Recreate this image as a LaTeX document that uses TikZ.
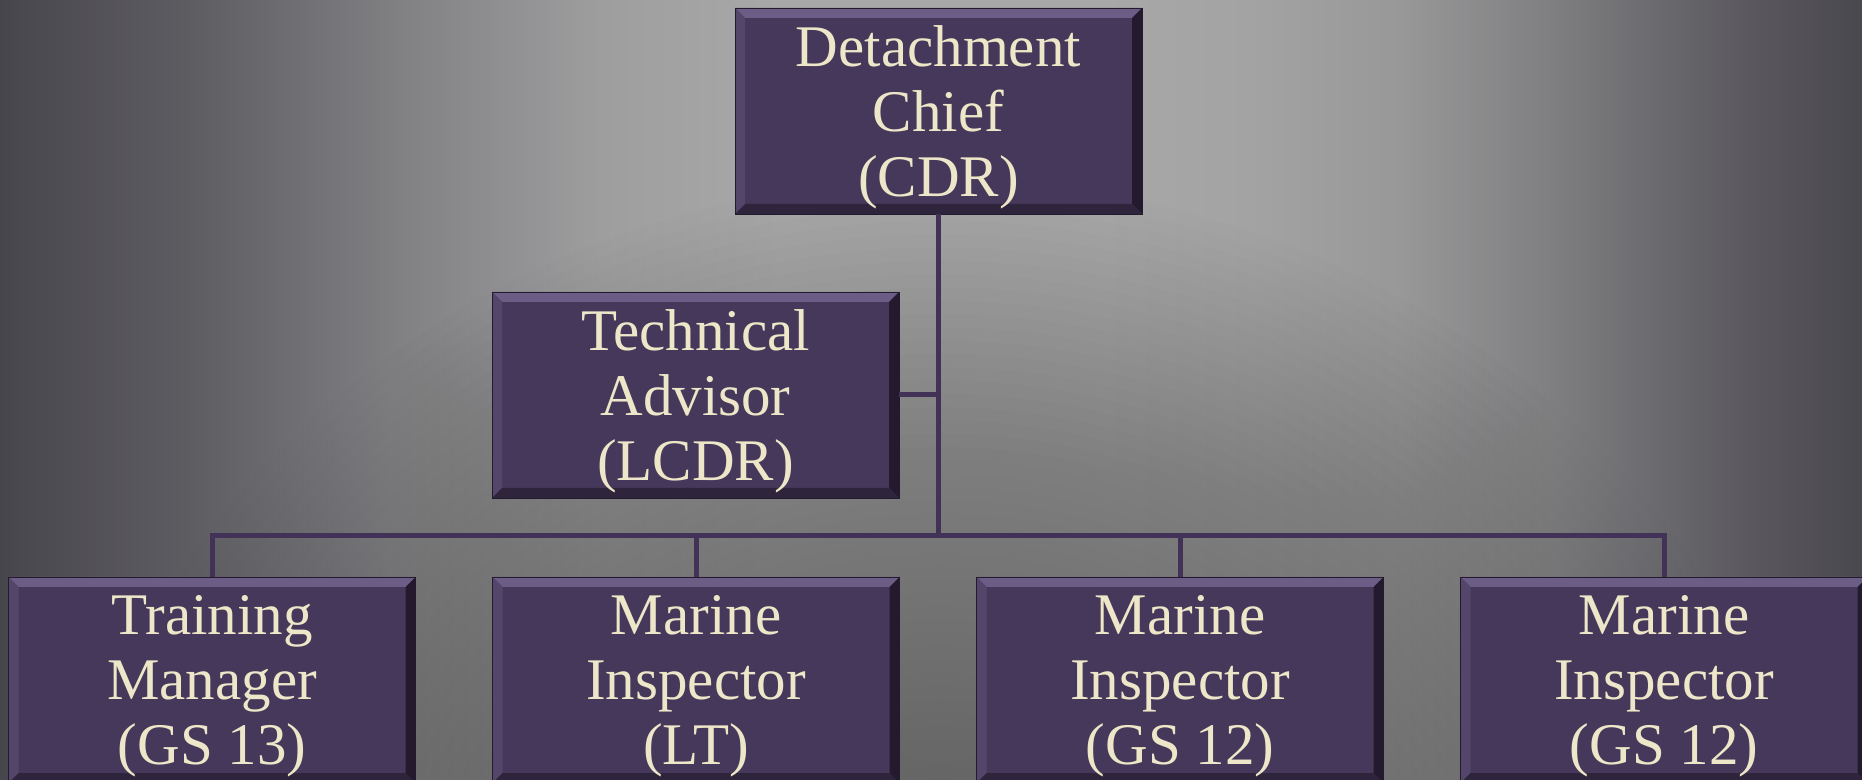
\documentclass[tikz,border=0pt]{standalone}
\usepackage{fontspec}
\setmainfont{Liberation Serif}
\usepackage{xcolor}
\usepackage{tikz}

% backdrop stops, left to right
\definecolor{bgA}{RGB}{72,70,77}
\definecolor{bgB}{RGB}{95,94,99}
\definecolor{bgC}{RGB}{129,128,131}
\definecolor{bgD}{RGB}{158,158,159}
\definecolor{bgE}{RGB}{168,168,168}
\definecolor{bgF}{RGB}{163,163,163}
\definecolor{bgG}{RGB}{152,152,153}
\definecolor{bgH}{RGB}{127,127,129}
\definecolor{bgI}{RGB}{108,107,111}
\definecolor{bgJ}{RGB}{90,88,94}
\definecolor{bgK}{RGB}{74,72,79}

\definecolor{boxfill}{RGB}{70,56,90}
\definecolor{bevtop}{RGB}{108,93,134}
\definecolor{bevleft}{RGB}{84,69,106}
\definecolor{bevright}{RGB}{35,27,45}
\definecolor{bevbottom}{RGB}{46,37,60}
\definecolor{linkcol}{RGB}{66,50,88}
\definecolor{boxtext}{RGB}{238,230,200}

\begin{document}
\begin{tikzpicture}[
  x=1pt, y=1pt,
  post/.style={rectangle, fill=boxfill, draw=bevright, line width=0.8pt,
    minimum width=407pt, minimum height=206pt, inner sep=0pt,
    text=boxtext, align=center, font=\fontsize{59}{65}\selectfont, text depth=0pt,
    path picture={
      % bevel: top, left, right, bottom
      \fill[bevtop] (path picture bounding box.north west) -- (path picture bounding box.north east)
        -- ([shift={(-10pt,-10pt)}]path picture bounding box.north east)
        -- ([shift={(10pt,-10pt)}]path picture bounding box.north west) -- cycle;
      \fill[bevleft] (path picture bounding box.north west) -- ([shift={(10pt,-10pt)}]path picture bounding box.north west)
        -- ([shift={(10pt,10pt)}]path picture bounding box.south west) -- (path picture bounding box.south west) -- cycle;
      \fill[bevright] (path picture bounding box.north east) -- ([shift={(-10pt,-10pt)}]path picture bounding box.north east)
        -- ([shift={(-10pt,10pt)}]path picture bounding box.south east) -- (path picture bounding box.south east) -- cycle;
      \fill[bevbottom] (path picture bounding box.south west) -- ([shift={(10pt,10pt)}]path picture bounding box.south west)
        -- ([shift={(-10pt,10pt)}]path picture bounding box.south east) -- (path picture bounding box.south east) -- cycle;
    }},
  link/.style={draw=linkcol, line width=5pt}
]
  \path[use as bounding box, clip] (0,0) rectangle (1862,779);

  % Background: dark at the sides, light at the top middle
  \foreach \xa/\xb/\ca/\cb in {0/200/bgA/bgB, 200/400/bgB/bgC, 400/600/bgC/bgD, 600/780/bgD/bgE,
      780/1100/bgE/bgE, 1100/1250/bgE/bgF, 1250/1400/bgF/bgG, 1400/1550/bgG/bgH,
      1550/1650/bgH/bgI, 1650/1750/bgI/bgJ, 1750/1862/bgJ/bgK}
    \shade[left color=\ca, right color=\cb] (\xa,0) rectangle (\xb+1,779);
  % darker towards the bottom middle
  \foreach \i in {60,59,...,1}
    \fill[black, fill opacity=0.009] (940,-200) ellipse [x radius=\i*14.7, y radius=\i*13.3];

  % Boxes
  \node[post] (chief)   at (938.5, 668) {Detachment\\Chief\\(CDR)};
  \node[post] (advisor) at (695.5, 384) {Technical\\Advisor\\(LCDR)};
  \node[post] (trainer) at (212, 99)    {Training\\Manager\\(GS 13)};
  \node[post] (insp1)   at (696, 99)    {Marine\\Inspector\\(LT)};
  \node[post] (insp2)   at (1180, 99)   {Marine\\Inspector\\(GS 12)};
  \node[post] (insp3)   at (1664, 99)   {Marine\\Inspector\\(GS 12)};

  \coordinate (bus) at (0, 243);

  % Connectors
  \draw[link] (chief.south) -- (chief.south |- bus);
  \draw[link] (advisor.east) -- (advisor.east -| chief.south);
  \draw[link] (trainer.north) -- (trainer.north |- bus) -- (insp3.north |- bus) -- (insp3.north);
  \draw[link] (insp1.north) -- (insp1.north |- bus);
  \draw[link] (insp2.north) -- (insp2.north |- bus);
\end{tikzpicture}
\end{document}
